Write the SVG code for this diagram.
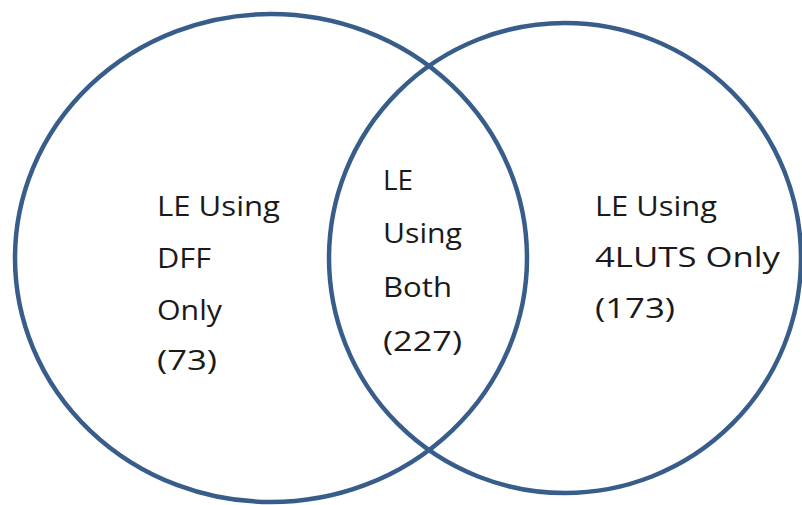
<svg xmlns="http://www.w3.org/2000/svg" width="802" height="505" viewBox="0 0 802 505">
<style>
.set{fill:none;stroke:#385d8a;stroke-width:4.5}
.lbl{font-family:"Open Sans","Liberation Sans",sans-serif;font-size:28px;fill:#1a1a1a}
</style>
<rect width="802" height="505" fill="#ffffff"/>
<g id="set-dff">
<ellipse class="set" cx="271" cy="258" rx="256" ry="244"/>
</g>
<g id="set-4luts">
<ellipse class="set" cx="565" cy="258" rx="236" ry="235"/>
</g>
<g id="label-dff-only">
<text class="lbl" x="157" y="216" textLength="123" lengthAdjust="spacingAndGlyphs">LE Using</text>
<text class="lbl" x="157" y="268" textLength="54" lengthAdjust="spacingAndGlyphs">DFF</text>
<text class="lbl" x="157" y="320" textLength="65" lengthAdjust="spacingAndGlyphs">Only</text>
<text class="lbl" x="157" y="370" textLength="60" lengthAdjust="spacingAndGlyphs">(73)</text>
</g>
<g id="label-both">
<text class="lbl" x="383" y="190" textLength="30" lengthAdjust="spacingAndGlyphs">LE</text>
<text class="lbl" x="383" y="243" textLength="79" lengthAdjust="spacingAndGlyphs">Using</text>
<text class="lbl" x="383" y="297" textLength="69" lengthAdjust="spacingAndGlyphs">Both</text>
<text class="lbl" x="383" y="351" textLength="79" lengthAdjust="spacingAndGlyphs">(227)</text>
</g>
<g id="label-4luts-only">
<text class="lbl" x="595" y="216" textLength="122" lengthAdjust="spacingAndGlyphs">LE Using</text>
<text class="lbl" x="595" y="267" textLength="185" lengthAdjust="spacingAndGlyphs">4LUTS Only</text>
<text class="lbl" x="595" y="318" textLength="80" lengthAdjust="spacingAndGlyphs">(173)</text>
</g>
<g id="connectors"/>
</svg>
